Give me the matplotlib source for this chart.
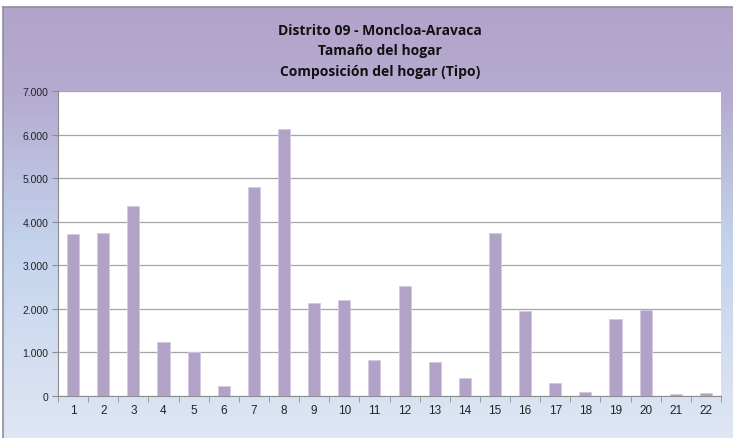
import numpy as np
import matplotlib
matplotlib.use("Agg")
import matplotlib.pyplot as plt
from matplotlib.colors import LinearSegmentedColormap
from matplotlib.ticker import FuncFormatter, MultipleLocator

categories = [str(i) for i in range(1, 23)]
values = [3710, 3735, 4360, 1250, 1000, 230, 4790, 6125, 2140, 2200, 820,
          2515, 790, 405, 3750, 1950, 305, 100, 1765, 1985, 55, 70]
title_lines = ["Distrito 09 - Moncloa-Aravaca", "Tamaño del hogar", "Composición del hogar (Tipo)"]

W, H = 733, 439
fig = plt.figure(figsize=(W / 100, H / 100), dpi=100)
fig.patch.set_facecolor("white")

# background gradient panel
bx0, by0 = 3, 8
bg = fig.add_axes([bx0 / W, 0, 1 - bx0 / W, 1 - by0 / H], zorder=-2)
cmap = LinearSegmentedColormap.from_list("bg", [(0.0, "#b2a3c9"), (0.2, "#b5abd0"), (0.55, "#c3d3ec"), (1.0, "#dfe6f4")])
grad = np.linspace(0, 1, 256).reshape(-1, 1)
bg.imshow(grad, aspect="auto", cmap=cmap, extent=[0, 1, 0, 1], origin="upper")
bg.set_xlim(0, 1)
bg.set_ylim(0, 1)
for s in ["left", "top"]:
    bg.spines[s].set_color("#8e8e9e")
    bg.spines[s].set_linewidth(1.2)
for s in ["right", "bottom"]:
    bg.spines[s].set_visible(False)
bg.set_xticks([])
bg.set_yticks([])

# plot area
px0, px1, py0, py1 = 58, 721, 92, 397
ax = fig.add_axes([px0 / W, 1 - py1 / H, (px1 - px0) / W, (py1 - py0) / H])
ax.set_facecolor("white")
x = np.arange(len(categories))
ax.bar(x, values, width=0.4, color="#b3a2c8", edgecolor="#d4cbe3", linewidth=0.6, zorder=3)
ax.set_xlim(-0.5, len(categories) - 0.5)
ax.set_ylim(0, 7000)
ax.yaxis.set_major_locator(MultipleLocator(1000))
ax.yaxis.set_major_formatter(FuncFormatter(lambda v, p: f"{int(v):,}".replace(",", ".")))
ax.grid(axis="y", color="#a6a6a6", linewidth=0.9, zorder=0)
ax.set_xticks(x)
ax.set_xticklabels(categories)
ax.set_xticks(np.arange(-0.5, len(categories)), minor=True)
ax.tick_params(axis="x", which="major", length=0, labelsize=8.5, pad=6, labelcolor="#222222")
ax.tick_params(axis="x", which="minor", length=4, color="#8c8c8c", direction="out")
ax.tick_params(axis="y", length=4, color="#8c8c8c", labelsize=7.5, labelcolor="#222222", pad=3)
for lab in ax.get_xticklabels() + ax.get_yticklabels():
    lab.set_fontfamily("Liberation Sans")
ax.spines["top"].set_visible(False)
ax.spines["right"].set_visible(False)
ax.spines["left"].set_color("#8c8c8c")
ax.spines["bottom"].set_color("#8c8c8c")

ys = [31, 51, 72]
for t, yy in zip(title_lines, ys):
    fig.text(380 / W, 1 - yy / H, t, ha="center", va="center", fontsize=10,
             fontweight="bold", family="Open Sans", color="#111111")

fig.savefig("out.png", dpi=100)
